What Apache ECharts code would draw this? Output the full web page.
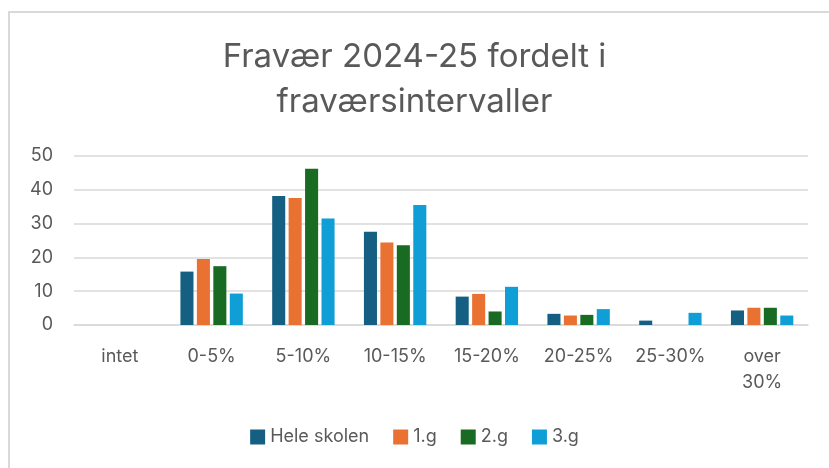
<!DOCTYPE html>
<html>
<head>
<meta charset="utf-8">
<script src="https://cdn.jsdelivr.net/npm/echarts@6/dist/echarts.min.js"></script>
<style>
  html, body { margin: 0; padding: 0; background: #fff; overflow: hidden; }
  #frame { position: absolute; left: 8px; top: 11px; width: 900px; height: 500px; border: 2px solid #d9d9d9; }
  #chart { position: absolute; left: 0; top: 0; width: 829px; height: 468px; }
</style>
</head>
<body>
<div id="frame"></div>
<div id="chart"></div>
<script>
  const categories = ['intet', '0-5%', '5-10%', '10-15%', '15-20%', '20-25%', '25-30%', 'over 30%'];
  const heleSkolen = [0, 15.8, 38.2, 27.6, 8.4, 3.3, 1.3, 4.3];
  const g1 = [0, 19.5, 37.6, 24.4, 9.2, 2.8, 0, 5.1];
  const g2 = [0, 17.4, 46.2, 23.6, 4.0, 3.0, 0, 5.1];
  const g3 = [0, 9.3, 31.5, 35.5, 11.3, 4.7, 3.6, 2.8];

  const font = 'Inter, "Noto Sans", sans-serif';
  const chart = echarts.init(document.getElementById('chart'));

  function bar(name, data, color) {
    return {
      name: name,
      type: 'bar',
      data: data,
      barGap: '26%',
      barCategoryGap: '32%',
      itemStyle: { color: color }
    };
  }

  chart.setOption({
    animation: false,
    textStyle: { fontFamily: font },
    title: {
      text: 'Fravær 2024-25 fordelt i\nfraværsintervaller',
      left: 'center',
      top: 30,
      textStyle: { fontFamily: font, fontSize: 33, fontWeight: 'normal', color: '#595959', lineHeight: 45 }
    },
    legend: {
      bottom: 17,
      left: 'center',
      itemWidth: 15,
      itemHeight: 15,
      itemGap: 24,
      icon: 'rect',
      textStyle: { fontFamily: font, fontSize: 18, color: '#595959' },
      data: ['Hele skolen', '1.g', '2.g', '3.g']
    },
    grid: { left: 74, right: 21, top: 156, bottom: 143 },
    xAxis: {
      type: 'category',
      data: categories,
      axisLine: { lineStyle: { color: '#d9d9d9', width: 1.5 } },
      axisTick: { show: false },
      axisLabel: {
        interval: 0,
        hideOverlap: false,
        fontSize: 18,
        color: '#595959',
        margin: 19,
        lineHeight: 26,
        formatter: v => v === 'over 30%' ? 'over\n30%' : v
      }
    },
    yAxis: {
      type: 'value',
      min: 0,
      max: 50,
      interval: 10,
      axisLine: { show: false },
      axisTick: { show: false },
      axisLabel: { fontSize: 18, color: '#595959', margin: 21 },
      splitLine: { lineStyle: { color: '#d9d9d9', width: 1.5 } }
    },
    series: [
      bar('Hele skolen', heleSkolen, '#156082'),
      bar('1.g', g1, '#e97132'),
      bar('2.g', g2, '#196b24'),
      bar('3.g', g3, '#0f9ed5')
    ]
  });
</script>
</body>
</html>
